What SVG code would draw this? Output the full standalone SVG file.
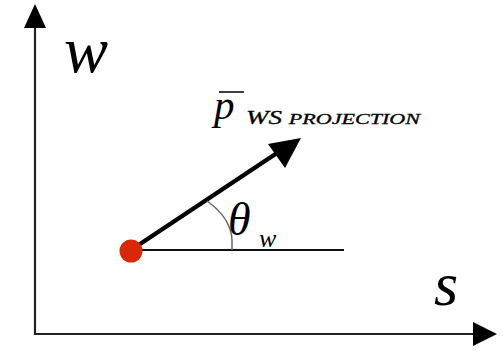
<svg xmlns="http://www.w3.org/2000/svg" width="504" height="351" viewBox="0 0 504 351">
<style>
.ax{stroke:#222;stroke-width:2.2;fill:none}
.t{font-family:"Liberation Serif","Times New Roman",serif;font-style:italic;fill:#000}
</style>
<rect width="504" height="351" fill="#fff"/>
<g id="axes">
<path class="ax" d="M35,27 V334 H474"/>
<polygon points="35,4 24,28 46,28" fill="#000"/>
<polygon points="497,334 473,322 473,346" fill="#000"/>
</g>
<g id="connectors">
<line x1="131" y1="250" x2="344" y2="250" stroke="#111" stroke-width="2"/>
<line x1="131" y1="250" x2="280" y2="151" stroke="#000" stroke-width="4.5"/>
<polygon points="301,138 268,144 285,168" fill="#000"/>
<path d="M207,201 Q231,218 232,240 L232,250" fill="none" stroke="#666" stroke-width="1.5"/>
</g>
<g id="origin"><circle cx="131" cy="251" r="11.5" fill="#d8280a"/></g>
<g id="labels">
<text class="t" x="64" y="72" font-size="66">w</text>
<text class="t" x="434" y="305" font-size="62">s</text>
<text class="t" x="214" y="119" font-size="41">p</text>
<line x1="219" y1="92" x2="244" y2="92" stroke="#000" stroke-width="1.5"/>
<text class="t" x="246" y="124" textLength="174" lengthAdjust="spacingAndGlyphs" stroke="#000" stroke-width="0.3"><tspan font-size="19">WS </tspan><tspan font-size="15.5">PROJECTION</tspan></text>
<text class="t" x="228" y="235" font-size="46">θ</text>
<text class="t" x="259" y="247" font-size="26">w</text>
</g>
</svg>
